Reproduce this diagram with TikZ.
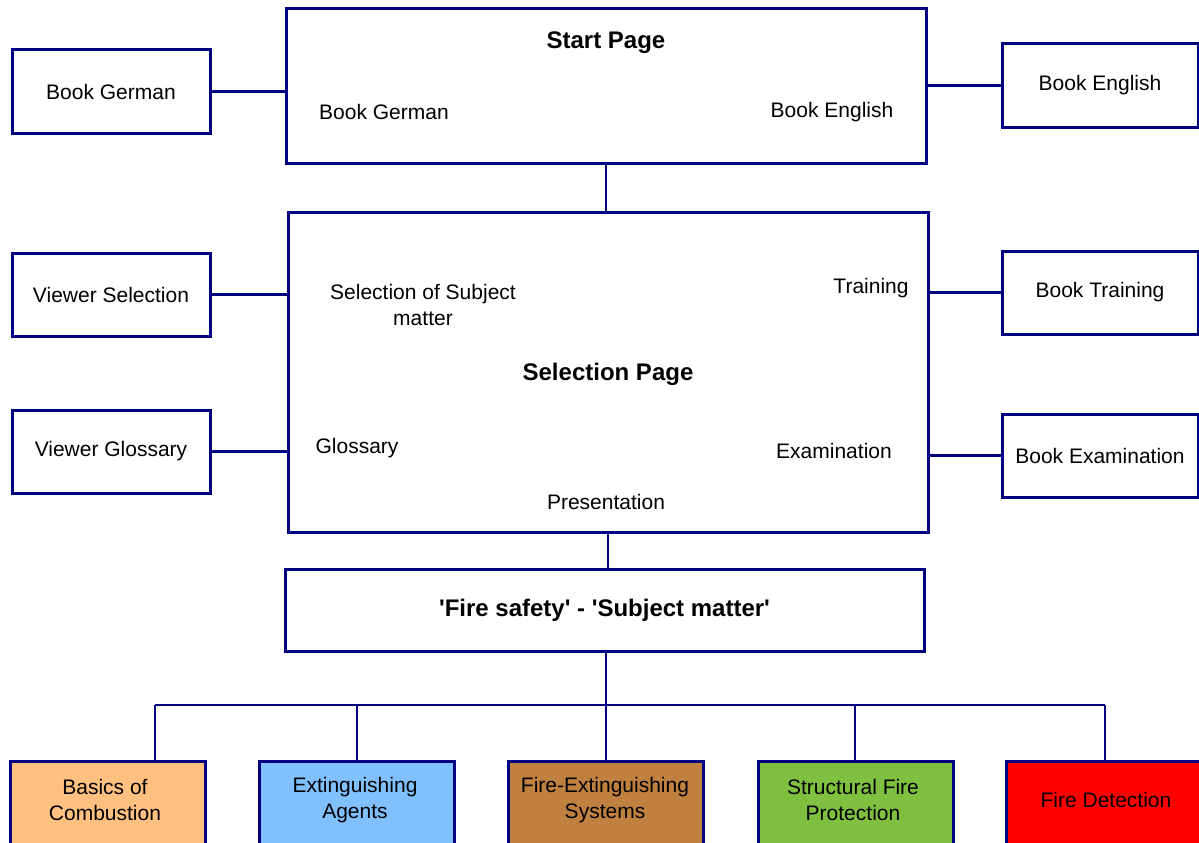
\documentclass[tikz,border=0pt]{standalone}
\usepackage{fontspec}
\setmainfont{Liberation Sans}[Ligatures=TeXOff]
\definecolor{navy}{HTML}{000080}
\definecolor{cOrange}{HTML}{FFC080}
\definecolor{cBlue}{HTML}{80C0FF}
\definecolor{cBrown}{HTML}{C08040}
\definecolor{cGreen}{HTML}{80C040}
\definecolor{cRed}{HTML}{FF0000}
\begin{document}
\begin{tikzpicture}[x=1pt,y=-1pt,
  box/.style={draw=navy, line width=3pt, fill=white, inner sep=0pt, outer sep=0pt},
  side/.style={box, minimum height=83pt, font=\fontsize{21}{26}\selectfont},
  big/.style={box},
  leaf/.style={box, minimum width=195pt, minimum height=100pt},
  txt/.style={inner sep=0pt, font=\fontsize{21}{26}\selectfont, align=center},
  ttl/.style={inner sep=0pt, font=\fontsize{24}{28}\selectfont\bfseries, align=center},
  link/.style={draw=navy, line width=2.3pt}]
\useasboundingbox (0,0) rectangle (1199,843);
\clip (0,0) rectangle (1199,843);

% main boxes
\node[big, minimum width=640pt, minimum height=154pt] (sp) at (606,86) {};
\node[big, minimum width=640pt, minimum height=320pt] (sel) at (608,372) {};
\node[big, minimum width=639pt, minimum height=82pt] (fs) at (604.5,610) {};

% texts in main boxes
\node[ttl] (spt) at (606,43) {Start Page};
\node[txt] (spg) at (384,112) {Book German};
\node[txt] (spe) at (832,112) {Book English};
\node[ttl] (selt) at (608,374) {Selection Page};
\node[txt] (sels) at (423,305) {Selection of Subject\\matter};
\node[txt] (selr) at (871,288) {Training};
\node[txt] (selg) at (357,448) {Glossary};
\node[txt] (sele) at (834,451) {Examination};
\node[txt] (selp) at (606,502) {Presentation};
\node[ttl] (fst) at (604.5,610) {'Fire safety' - 'Subject matter'};

% side boxes
\node[side, minimum width=198pt] (bg) at (111,91.5) {Book German};
\node[side, minimum width=196pt] (be) at (1100,85.5) {Book English};
\node[side, minimum width=198pt] (vs) at (111,294.5) {Viewer Selection};
\node[side, minimum width=198pt] (vg) at (111,451.5) {Viewer Glossary};
\node[side, minimum width=196pt] (bt) at (1100,292.5) {Book Training};
\node[side, minimum width=196pt] (bx) at (1100,455.5) {Book Examination};

% side connectors
\draw[link] (bg.east) -- (bg.east -| sp.west);
\draw[link] (be.west) -- (be.west -| sp.east);
\draw[link] (vs.east) -- (vs.east -| sel.west);
\draw[link] (vg.east) -- (vg.east -| sel.west);
\draw[link] (bt.west) -- (bt.west -| sel.east);
\draw[link] (bx.west) -- (bx.west -| sel.east);

% vertical connectors
\draw[link] (sp.south) -- (sp.south |- sel.north);
\draw[link] (sel.south) -- (sel.south |- fs.north);

% leaf boxes
\node[leaf, fill=cOrange] (l1) at (108,811) {};
\node[leaf, fill=cBlue] (l2) at (357,811) {};
\node[leaf, fill=cBrown] (l3) at (606,811) {};
\node[leaf, fill=cGreen] (l4) at (855.5,811) {};
\node[leaf, fill=cRed] (l5) at (1104,811) {};
\node[txt] (l1t) at (105,800) {Basics of\\Combustion};
\node[txt] (l2t) at (355,800) {Extinguishing\\Agents};
\node[txt] (l3t) at (605,800) {Fire-Extinguishing\\Systems};
\node[txt] (l4t) at (853,800) {Structural Fire\\Protection};
\node[txt] (l5t) at (1106,800) {Fire Detection};

% tree connectors
\coordinate (hub) at (606,705);
\coordinate (c1) at (155,705);
\coordinate (c2) at (357,705);
\coordinate (c4) at (855,705);
\coordinate (c5) at (1105,705);
\draw[link] (fs.south -| hub) -- (hub);
\draw[link] (c1) -- (c5);
\draw[link] (c1) -- (c1 |- l1.north);
\draw[link] (c2) -- (c2 |- l2.north);
\draw[link] (hub) -- (hub |- l3.north);
\draw[link] (c4) -- (c4 |- l4.north);
\draw[link] (c5) -- (c5 |- l5.north);
\end{tikzpicture}
\end{document}
